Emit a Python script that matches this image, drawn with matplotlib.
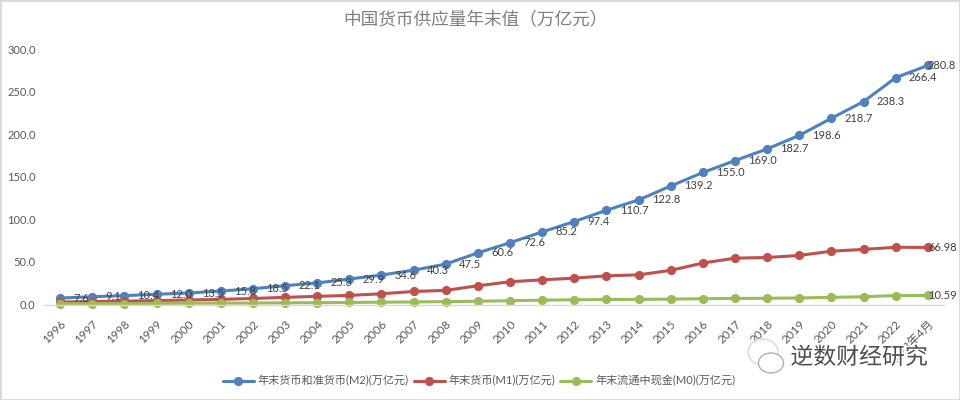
from matplotlib import pyplot as plt
from matplotlib.patches import Ellipse, Rectangle
import matplotlib.patheffects as pe
import numpy as np

plt.rcParams['font.family'] = ['Lato', 'Noto Sans CJK SC', 'DejaVu Sans']

W, H = 960, 400

years = [str(y) for y in range(1996, 2023)] + ['2023年4月']

m2 = [7.6, 9.1, 10.4, 12.0, 13.5, 15.8, 18.5, 22.1, 25.3, 29.9, 34.6, 40.3, 47.5, 60.6,
      72.6, 85.2, 97.4, 110.7, 122.8, 139.2, 155.0, 169.0, 182.7, 198.6, 218.7, 238.3, 266.4, 280.8]
m1 = [2.9, 3.5, 3.9, 4.6, 5.3, 6.0, 7.1, 8.4, 9.6, 10.7, 12.6, 15.3, 16.6, 22.0,
      26.7, 29.0, 30.9, 33.7, 34.8, 40.1, 48.7, 54.4, 55.2, 57.6, 62.6, 64.7, 67.2, 66.98]
m0 = [0.9, 1.0, 1.1, 1.3, 1.5, 1.6, 1.7, 2.0, 2.1, 2.4, 2.7, 3.0, 3.4, 3.8,
      4.5, 5.1, 5.5, 5.9, 6.0, 6.3, 6.8, 7.1, 7.3, 7.7, 8.4, 9.1, 10.5, 10.59]

names = ['年末货币和准货币(M2)(万亿元)', '年末货币(M1)(万亿元)', '年末流通中现金(M0)(万亿元)']
colors = ['#4f81bd', '#c0504d', '#9bbb59']
yticks = [0, 50, 100, 150, 200, 250, 300]

TEXT = '#595959'


def px(x, y):
    # pixel from top left -> figure fraction
    return x / W, 1 - y / H


fig = plt.figure(figsize=(W / 100, H / 100), dpi=100, facecolor='white')
ax = fig.add_axes([44 / W, 1 - 304.5 / H, 900 / W, 255.5 / H])
ax.patch.set_alpha(0)

x = np.arange(len(years))
lines = []
for vals, name, c in zip([m2, m1, m0], names, colors):
    l, = ax.plot(x, vals, color=c, lw=2.2, marker='o', ms=5.6, label=name,
                 clip_on=False, solid_capstyle='round')
    lines.append(l)

ax.set_xlim(-0.5, 27.5)
ax.set_ylim(0, 300)

for s in ['top', 'left', 'right']:
    ax.spines[s].set_visible(False)
ax.spines['bottom'].set_color('#d9d9d9')
ax.spines['bottom'].set_linewidth(1)

ax.set_yticks(yticks)
ax.set_yticklabels([f'{v:.1f}' for v in yticks], fontsize=8, color=TEXT)
ax.set_xticks(x)
ax.set_xticklabels(years, fontsize=8.5, color=TEXT, rotation=45, ha='right',
                   rotation_mode='anchor')
ax.tick_params(axis='y', length=0, pad=6)
ax.tick_params(axis='x', length=0, pad=10)

# value labels, M2 sits to the right of each point, drawn over the lines
for i, v in enumerate(m2):
    dx = 0 if i == len(m2) - 1 else 9.5
    ax.annotate(f'{v:.1f}', (i, v), xytext=(dx, 0), textcoords='offset points',
                fontsize=8, color='#404040', ha='left', va='center', zorder=10,
                annotation_clip=False)
ax.annotate(f'{m1[-1]:.2f}', (27, m1[-1]), xytext=(0, 0), textcoords='offset points',
            fontsize=8, color='#404040', ha='left', va='center', zorder=10)
ax.annotate(f'{m0[-1]:.2f}', (27, m0[-1]), xytext=(0, 0), textcoords='offset points',
            fontsize=8, color='#404040', ha='left', va='center', zorder=10)

fig.text(*px(476, 19), '中国货币供应量年末值（万亿元）', fontsize=12.7, color='#7f7f7f',
         ha='center', va='center')

fig.legend(handles=lines, loc='center', bbox_to_anchor=px(479, 381), ncol=3, frameon=False,
           fontsize=8, labelcolor=TEXT, handlelength=2.8, handletextpad=0.35,
           columnspacing=0.45, borderpad=0)

# watermark
halo = [pe.withStroke(linewidth=2.5, foreground='white')]
fig.text(*px(859, 357), '逆数财经研究', fontsize=16.5, color='#4d4d4d', ha='center', va='center',
         path_effects=halo, zorder=10)
for cx, cy, w, h, ec in [(763, 352, 30, 26, '#d8d8d8'), (771, 363, 25, 20, '#b0b0b0')]:
    fig.add_artist(Ellipse(px(cx, cy), w / W, h / H, transform=fig.transFigure, fc='white',
                           ec=ec, lw=1, zorder=9))

# picture frame
fig.add_artist(Rectangle((0, 0), 1, 1, transform=fig.transFigure, fill=False, ec='#d9d9d9', lw=2))

plt.savefig('out.png', dpi=100)
